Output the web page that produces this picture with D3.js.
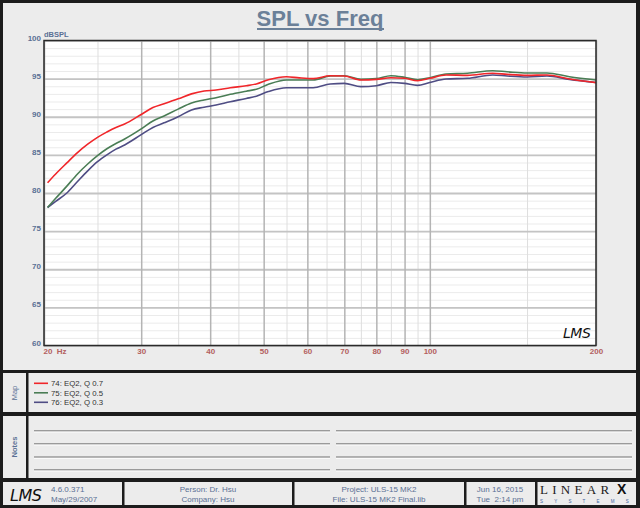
<!DOCTYPE html>
<html>
<head>
<meta charset="utf-8">
<script src="https://cdn.jsdelivr.net/npm/d3@7"></script>
<style>
  body { margin: 0; background: #1c1c1c; }
  svg { display: block; font-family: "Liberation Sans", Arial, sans-serif; }
</style>
</head>
<body>
<div id="chart"></div>
<script>
// frequency points (Hz) and the three measured curves (dBSPL)
var freqs = [20.3, 21, 22, 23, 24, 25, 26, 27, 28, 30, 31.5, 33, 35, 37, 39, 41, 43.5, 46.5, 48.5, 51,
             55, 58, 61.5, 66, 70, 75, 80, 85, 90, 95, 100, 107, 117, 130, 138, 150, 163, 179, 200];
var spl74 = [81.35, 82.5, 83.95, 85.3, 86.4, 87.3, 88.0, 88.6, 89.05, 90.3, 91.2, 91.7, 92.35, 93.0, 93.38, 93.5, 93.8, 94.07, 94.3, 94.85,
             95.25, 95.1, 95.0, 95.38, 95.34, 94.82, 94.9, 95.12, 95.04, 94.73, 95.04, 95.48, 95.43, 95.7, 95.56, 95.43, 95.48, 94.95, 94.47];
var spl75 = [78.1, 79.3, 80.9, 82.5, 83.8, 84.9, 85.8, 86.5, 87.08, 88.4, 89.45, 90.1, 91.0, 91.8, 92.2, 92.5, 92.94, 93.35, 93.6, 94.25,
             94.82, 94.82, 94.82, 95.34, 95.38, 94.9, 95.0, 95.38, 95.17, 94.86, 95.12, 95.6, 95.7, 96.04, 95.9, 95.74, 95.74, 95.25, 94.82];
var spl76 = [78.1, 78.9, 80.0, 81.5, 82.9, 84.1, 85.0, 85.75, 86.3, 87.65, 88.6, 89.2, 90.0, 90.9, 91.25, 91.55, 91.97, 92.4, 92.7, 93.3,
             93.8, 93.8, 93.8, 94.3, 94.38, 93.95, 94.07, 94.5, 94.38, 94.12, 94.5, 94.95, 95.04, 95.48, 95.34, 95.21, 95.34, 94.9, 94.5];

var seriesNames = ["74: EQ2, Q 0.7", "75: EQ2, Q 0.5", "76: EQ2, Q 0.3"];
var seriesColors = ["#f0262a", "#4a7d55", "#4f4d84"];

var xTicks = [20, 30, 40, 50, 60, 70, 80, 90, 100, 200];
var xMinor = [25, 35, 45, 55, 65, 75, 85, 95, 150];
var yTicks = [60, 65, 70, 75, 80, 85, 90, 95, 100];

var W = 640, H = 508;
var blue = "#5a7094";

var svg = d3.select("#chart").append("svg")
  .attr("width", W).attr("height", H);

svg.append("rect").attr("width", W).attr("height", H).attr("fill", "#1c1c1c");

// panels
var panelFill = "#ececec";
svg.append("rect").attr("x", 3).attr("y", 3).attr("width", 633).attr("height", 367).attr("fill", panelFill);
// map panel
svg.append("rect").attr("x", 3).attr("y", 373).attr("width", 23).attr("height", 39).attr("fill", panelFill);
svg.append("rect").attr("x", 28.5).attr("y", 373).attr("width", 607.5).attr("height", 39).attr("fill", panelFill);
// notes panel
svg.append("rect").attr("x", 3).attr("y", 416).attr("width", 23).attr("height", 62).attr("fill", panelFill);
svg.append("rect").attr("x", 28.5).attr("y", 416).attr("width", 607.5).attr("height", 62).attr("fill", panelFill);
// footer cells
var cells = [[3, 122], [124.5, 292], [294.5, 464], [466.5, 535], [537.5, 636]];
cells.forEach(function(c) {
  svg.append("rect").attr("x", c[0]).attr("y", 482).attr("width", c[1] - c[0]).attr("height", 23).attr("fill", panelFill);
});

// title
svg.append("text").attr("x", 320).attr("y", 26).attr("text-anchor", "middle")
  .attr("font-size", "22px").attr("font-weight", "bold").attr("fill", "#6b8098")
  .text("SPL vs Freq");
svg.append("line").attr("x1", 257).attr("x2", 384).attr("y1", 29).attr("y2", 29)
  .attr("stroke", "#6b8098").attr("stroke-width", 1.8);

// scales
var x = d3.scaleLog().domain([20, 200]).range([44, 596]);
var y = d3.scaleLinear().domain([60, 100]).range([345.5, 40.5]);

var plot = svg.append("g");
plot.append("rect").attr("x", 44).attr("y", 40.5).attr("width", 552).attr("height", 305).attr("fill", "#fff");

// minor horizontal grid every 1 dB
plot.append("g").attr("transform", "translate(44,0)")
  .call(d3.axisLeft(y).tickValues(d3.range(60, 101, 1)).tickSize(-552).tickFormat(""))
  .call(function(g) { g.select(".domain").remove(); })
  .selectAll("line").attr("stroke", "#ebebeb").attr("stroke-width", 1);

// minor vertical grid
plot.append("g").attr("transform", "translate(0,345.5)")
  .call(d3.axisBottom(x).tickValues(xMinor).tickSize(-305).tickFormat(""))
  .call(function(g) { g.select(".domain").remove(); })
  .selectAll("line").attr("stroke", "#dedede").attr("stroke-width", 1);

// major horizontal grid
plot.append("g").attr("transform", "translate(44,0)")
  .call(d3.axisLeft(y).tickValues(yTicks).tickSize(-552).tickFormat(""))
  .call(function(g) { g.select(".domain").remove(); })
  .selectAll("line").attr("stroke", "#c4c4c4").attr("stroke-width", 1.8);

// major vertical grid
plot.append("g").attr("transform", "translate(0,345.5)")
  .call(d3.axisBottom(x).tickValues(xTicks).tickSize(-305).tickFormat(""))
  .call(function(g) { g.select(".domain").remove(); })
  .selectAll("line").attr("stroke", "#b4b4b4").attr("stroke-width", 1.5);

// curves
var allSeries = [spl74, spl75, spl76];
var line = d3.line()
  .x(function(d) { return x(d[0]); })
  .y(function(d) { return y(d[1]); })
  .curve(d3.curveMonotoneX);

// draw purple first, then green, red on top
[2, 1, 0].forEach(function(i) {
  var pts = freqs.map(function(f, j) { return [f, allSeries[i][j]]; });
  plot.append("path").attr("d", line(pts)).attr("fill", "none")
    .attr("stroke", seriesColors[i]).attr("stroke-width", 1.6);
});

// plot frame
plot.append("rect").attr("x", 44).attr("y", 40.5).attr("width", 552).attr("height", 305)
  .attr("fill", "none").attr("stroke", "#2a2a2a").attr("stroke-width", 1.5);

// y axis labels
var yAxis = svg.append("g").attr("transform", "translate(41,0)")
  .call(d3.axisLeft(y).tickValues(yTicks).tickSize(0).tickPadding(0));
yAxis.select(".domain").remove();
yAxis.selectAll("text").attr("font-family", "Liberation Sans, Arial, sans-serif")
  .attr("font-size", "8px").attr("font-weight", "bold").attr("fill", blue).attr("dy", "-0.05em");

svg.append("text").attr("x", 44).attr("y", 36.5).attr("font-size", "7.5px")
  .attr("font-weight", "bold").attr("fill", blue).text("dBSPL");

// x axis labels
var xAxis = svg.append("g").attr("transform", "translate(0,346)")
  .call(d3.axisBottom(x).tickValues(xTicks).tickSize(0).tickPadding(2)
    .tickFormat(function(d) { return d; }));
xAxis.select(".domain").remove();
xAxis.selectAll("text").attr("font-family", "Liberation Sans, Arial, sans-serif")
  .attr("font-size", "8px").attr("font-weight", "bold").attr("fill", "#b36060");
xAxis.selectAll("text").filter(function(d) { return d === 20; })
  .attr("text-anchor", "start").attr("dx", "-1").text("20  Hz").attr("xml:space", "preserve");

// LMS mark in plot
svg.append("text").attr("x", 563).attr("y", 338).attr("font-family", "DejaVu Sans, sans-serif")
  .attr("font-style", "italic").attr("font-size", "14px").attr("fill", "#111")
  .attr("letter-spacing", "-0.5").text("LMS");

// map panel label and legend
svg.append("text").attr("transform", "translate(17,393) rotate(-90)").attr("text-anchor", "middle")
  .attr("font-size", "7.5px").attr("fill", blue).text("Map");
seriesNames.forEach(function(name, i) {
  var ly = 383.3 + i * 9.5;
  svg.append("line").attr("x1", 34).attr("x2", 48).attr("y1", ly).attr("y2", ly)
    .attr("stroke", seriesColors[i]).attr("stroke-width", 1.6);
  svg.append("text").attr("x", 51).attr("y", ly + 2.8).attr("font-size", "7.8px")
    .attr("fill", "#333").text(name);
});

// notes panel
svg.append("text").attr("transform", "translate(17,447) rotate(-90)").attr("text-anchor", "middle")
  .attr("font-size", "7.5px").attr("font-weight", "bold").attr("fill", blue).text("Notes");
[430.7, 443.7, 457, 469.7].forEach(function(ny) {
  [[34, 330], [336, 632]].forEach(function(c) {
    svg.append("line").attr("x1", c[0]).attr("x2", c[1]).attr("y1", ny).attr("y2", ny)
      .attr("stroke", "#9a9a9a").attr("stroke-width", 1.5);
    svg.append("line").attr("x1", c[0]).attr("x2", c[1]).attr("y1", ny + 1.4).attr("y2", ny + 1.4)
      .attr("stroke", "#ffffff").attr("stroke-width", 0.8);
  });
});

// footer
svg.append("text").attr("x", 10).attr("y", 501).attr("font-family", "DejaVu Sans, sans-serif")
  .attr("font-style", "italic").attr("font-size", "16px").attr("fill", "#111")
  .attr("letter-spacing", "-0.5").text("LMS");
function footText(tx, ty, txt, anchor) {
  svg.append("text").attr("x", tx).attr("y", ty).attr("text-anchor", anchor || "start")
    .attr("font-size", "8px").attr("fill", blue).attr("xml:space", "preserve").text(txt);
}
footText(51, 491.5, "4.6.0.371");
footText(51, 501.5, "May/29/2007");
footText(208, 491.5, "Person: Dr. Hsu", "middle");
footText(208, 501.5, "Company: Hsu", "middle");
footText(379, 491.5, "Project: ULS-15 MK2", "middle");
footText(379, 501.5, "File: ULS-15 MK2 Final.lib", "middle");
footText(500, 491.5, "Jun 16, 2015", "middle");
footText(500, 501.5, "Tue  2:14 pm", "middle");

// LinearX logo
svg.append("text").attr("x", 540).attr("y", 494).attr("font-family", "Liberation Serif, serif")
  .attr("font-size", "13px").attr("letter-spacing", "4.3").attr("fill", "#222").text("LINEAR");
svg.append("text").attr("x", 617).attr("y", 494).attr("font-family", "Liberation Sans, sans-serif")
  .attr("font-size", "14px").attr("font-weight", "bold").attr("fill", "#111").text("X");
svg.append("text").attr("x", 540).attr("y", 502.5).attr("font-size", "4.5px")
  .attr("letter-spacing", "11.2").attr("fill", "#3a5fa0").text("SYSTEMS");
</script>
</body>
</html>
